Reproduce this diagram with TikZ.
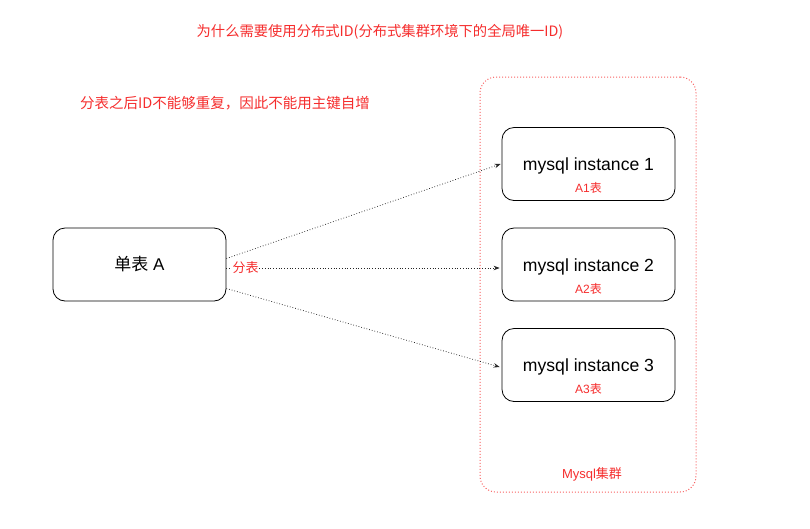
\documentclass[tikz,border=0pt]{standalone}
\usepackage{fontspec}
\setmainfont{Liberation Sans}
\newfontfamily\cjk{Noto Sans CJK SC}
\usetikzlibrary{arrows.meta}
\definecolor{mred}{RGB}{245,45,45}
\tikzset{
  box/.style={draw=black, line width=0.8pt, rounded corners=12pt, minimum width=173pt, minimum height=73pt, inner sep=0pt},
  redtxt/.style={text=mred, inner sep=1pt},
  conn/.style={draw=black!85, dotted, line width=0.75pt, -{Stealth[length=6pt,width=4.5pt]}},
}
\begin{document}
\begin{tikzpicture}[x=1pt,y=-1pt]
\useasboundingbox (0,0) rectangle (810,528);
% title texts
\node[redtxt] (title) at (380,32) {\fontsize{14.3}{16}\selectfont\cjk 为什么需要使用分布式ID(分布式集群环境下的全局唯一ID)};
\node[redtxt, anchor=west] (sub) at (79,103) {\fontsize{14.5}{17}\selectfont\cjk 分表之后ID不能够重复，因此不能用主键自增};
% cluster
\node[draw=mred!75, dotted, line width=1pt, rounded corners=16pt, minimum width=216pt, minimum height=415pt, inner sep=0pt] (cluster) at (588,284.5) {};
\node[redtxt] (clab) at (592,474) {\fontsize{13}{15}\selectfont Mysql{\cjk 集群}};
% boxes
\node[box] (A) at (139.5,264.5) {\fontsize{17}{20}\selectfont{\cjk 单表} A};
\node[box] (I1) at (588.5,164) {};
\node[box] (I2) at (588.5,264.5) {};
\node[box] (I3) at (588.5,365) {};
\node (t1) at ([yshift=-2]I1.center) {\fontsize{17.6}{20}\selectfont mysql instance 1};
\node (t2) at ([yshift=-2]I2.center) {\fontsize{17.6}{20}\selectfont mysql instance 2};
\node (t3) at ([yshift=-2]I3.center) {\fontsize{17.6}{20}\selectfont mysql instance 3};
\node[redtxt] (l1) at ([yshift=-24]I1.center) {\fontsize{12}{14}\selectfont A1{\cjk 表}};
\node[redtxt] (l2) at ([yshift=-24]I2.center) {\fontsize{12}{14}\selectfont A2{\cjk 表}};
\node[redtxt] (l3) at ([yshift=-24]I3.center) {\fontsize{12}{14}\selectfont A3{\cjk 表}};
% connectors
\draw[conn] ([yshift=6]A.east) -- ([xshift=-1]I1.west);
\draw[conn] ([yshift=-3.5]A.east) -- node[pos=0.07, fill=white, redtxt, inner sep=0.5pt] (split) {\fontsize{13}{15}\selectfont\cjk 分表} ([xshift=-2,yshift=-3.5]I2.west);
\draw[conn] ([yshift=-24]A.east) -- ([xshift=-2,yshift=-2]I3.west);
\end{tikzpicture}
\end{document}
